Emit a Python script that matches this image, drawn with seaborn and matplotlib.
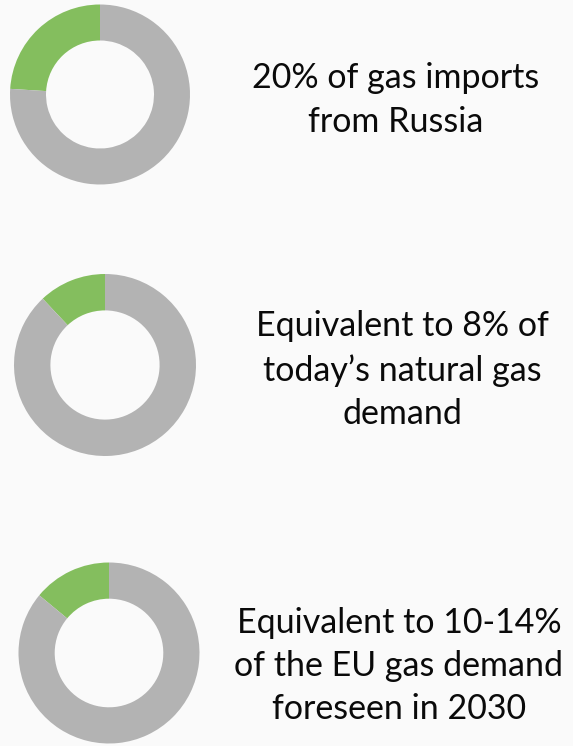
import matplotlib
matplotlib.use("Agg")
import matplotlib.pyplot as plt
import seaborn as sns

# share of the green slice in each donut, as drawn
shares = [24, 12, 14]
captions = [
    "20% of gas imports\nfrom Russia",
    "Equivalent to 8% of\ntoday\u2019s natural gas\ndemand",
    "Equivalent to 10-14%\nof the EU gas demand\nforeseen in 2030",
]

sns.set_theme(style="white")
plt.rcParams["font.family"] = ["Lato", "DejaVu Sans"]

W, H = 573, 746
BG = "#fafafa"
GREEN = "#84be5e"
GREY = "#b3b3b3"

fig = plt.figure(figsize=(W / 100, H / 100), dpi=100, facecolor=BG)

# donut centres / radii in pixels (from top-left) and caption centres
donuts = [(100, 94.5, 90), (105, 365, 91), (109, 653, 90.5)]
text_pos = [(395.5, 100), (402, 370), (399, 666)]

for share, (cx, cy, r) in zip(shares, donuts):
    ax = fig.add_axes([(cx - r) / W, (H - cy - r) / H, 2 * r / W, 2 * r / H])
    ax.pie([share, 100 - share], colors=[GREEN, GREY], startangle=90,
           counterclock=True, radius=1,
           wedgeprops=dict(width=0.4, edgecolor="none"))
    ax.set_xlim(-1, 1)
    ax.set_ylim(-1, 1)
    ax.set_aspect("equal")
    ax.axis("off")

for cap, (tx, ty) in zip(captions, text_pos):
    fig.text(tx / W, 1 - ty / H, cap, ha="center", va="center",
             fontsize=24.5, color="#0a0a0a", linespacing=1.44)

fig.savefig("out.png", dpi=100, facecolor=BG)
